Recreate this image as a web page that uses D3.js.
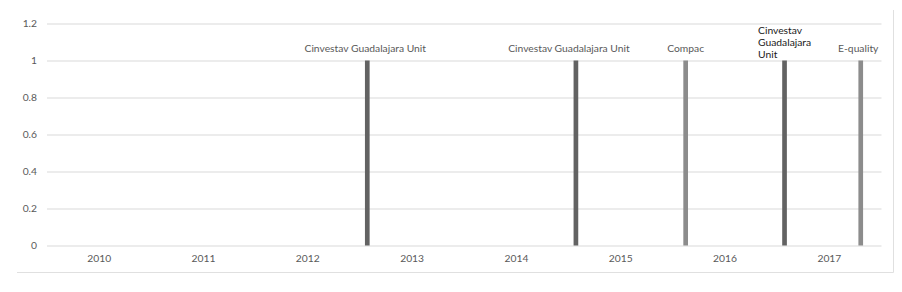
<!DOCTYPE html>
<html>
<head>
<meta charset="utf-8">
<script src="https://cdn.jsdelivr.net/npm/d3@7"></script>
<style>
  html, body { margin: 0; padding: 0; background: #fff; }
  svg { display: block; }
</style>
</head>
<body>
<div id="chart"></div>
<script>
// ---------------- DATA ----------------
const categories = ["2010", "2011", "2012", "2013", "2014", "2015", "2016", "2017"];
const partners = ["Cinvestav Guadalajara Unit", "Compac", "E-quality"];
const partnerSlot = [0, 1, 14];          // series order inside each year cluster
const slotCount = 18;
const barYears = ["2013", "2015", "2016", "2017", "2017"];
const barPartners = ["Cinvestav Guadalajara Unit", "Cinvestav Guadalajara Unit", "Compac", "Cinvestav Guadalajara Unit", "E-quality"];
const barValues = [1, 1, 1, 1, 1];
const yTicks = [0, 0.2, 0.4, 0.6, 0.8, 1, 1.2];

// ---------------- STYLE ----------------
const W = 902, H = 292;
const m = { left: 47, right: 20.5, top: 23.5, bottom: 46.5 };
const FONT = "Lato, 'Open Sans', sans-serif";
const FS = "10.3px";
const partnerColors = ["#636363", "#8c8c8c", "#8c8c8c"];
// label placement per bar (index-aligned with bars): mode and nudge
const labelStyle = [
  { mode: "center", dx: -2, color: "#595959" },
  { mode: "center", dx: -7, color: "#595959" },
  { mode: "center", dx: 0, color: "#595959" },
  { mode: "wrap", dx: -26.5, color: "#1a1a1a" },
  { mode: "center", dx: -2.5, color: "#595959" }
];

const svg = d3.select("#chart").append("svg").attr("width", W).attr("height", H);

const x0 = d3.scaleBand().domain(categories).range([m.left, W - m.right]).padding(0);
const bw = x0.bandwidth();
const x1 = d3.scaleBand().domain(d3.range(slotCount))
  .range([bw * 0.048, bw * 0.98]).paddingInner(0.14).paddingOuter(0);
const y = d3.scaleLinear().domain([0, 1.2]).range([H - m.bottom, m.top]);
const color = d3.scaleOrdinal().domain(partners).range(partnerColors);

// outer frame (right and bottom edges visible)
svg.append("path")
  .attr("d", `M17,272.5 H893.5 V10`)
  .attr("fill", "none").attr("stroke", "#e0e0e0").attr("stroke-width", 1);

// Y axis with gridlines
const yAxis = d3.axisLeft(y).tickValues(yTicks)
  .tickFormat(d => d3.format("")(d))
  .tickSizeInner(-(W - m.right - m.left)).tickSizeOuter(0).tickPadding(10);
const gy = svg.append("g").attr("transform", `translate(${m.left},0)`).call(yAxis);
gy.select(".domain").remove();
gy.selectAll(".tick line").attr("stroke", "#d9d9d9");
gy.selectAll(".tick text").attr("fill", "#595959").style("font-family", FONT).style("font-size", FS);

// X axis
const xAxis = d3.axisBottom(x0).tickSize(0).tickPadding(9);
const gx = svg.append("g").attr("transform", `translate(0,${y(0)})`).call(xAxis);
gx.select(".domain").remove();
gx.selectAll(".tick text").attr("fill", "#595959").style("font-family", FONT).style("font-size", FS);

// bars
const bars = barYears.map((yr, i) => ({
  year: yr, partner: barPartners[i], value: barValues[i],
  slot: partnerSlot[partners.indexOf(barPartners[i])], i
}));

svg.append("g").selectAll("rect").data(bars).join("rect")
  .attr("x", d => x0(d.year) + x1(d.slot))
  .attr("y", d => y(d.value))
  .attr("width", x1.bandwidth())
  .attr("height", d => y(0) - y(d.value))
  .attr("fill", d => color(d.partner));

// data labels (series names)
const lg = svg.append("g").style("font-family", FONT).style("font-size", FS);
bars.forEach(d => {
  const st = labelStyle[d.i];
  const cx = x0(d.year) + x1(d.slot) + x1.bandwidth() / 2 + st.dx;
  const top = y(d.value);
  if (st.mode === "wrap") {
    const words = d.partner.split(" ");
    const t = lg.append("text").attr("fill", st.color).attr("text-anchor", "start");
    words.forEach((w, k) => {
      t.append("tspan").attr("x", cx).attr("y", top - 2.5 - (words.length - 1 - k) * 11.8).text(w);
    });
  } else {
    lg.append("text").attr("fill", st.color).attr("text-anchor", "middle")
      .attr("x", cx).attr("y", top - 8.5).text(d.partner);
  }
});
</script>
</body>
</html>
